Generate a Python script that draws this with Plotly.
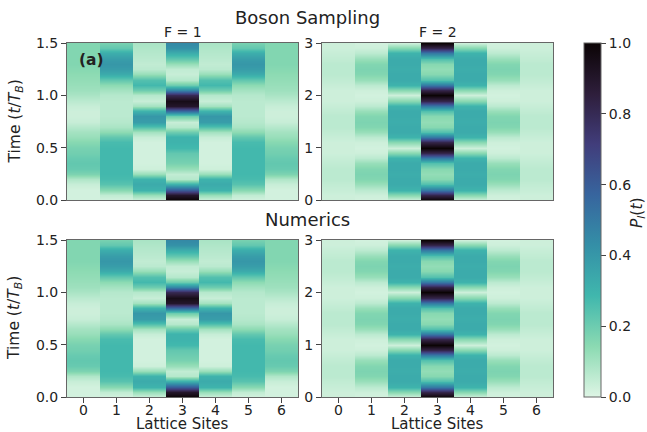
import plotly.graph_objects as go

# ---------------------------------------------------------------------------
# Occupation probabilities P_l(t) on a 7-site lattice (Bloch oscillations)
# ---------------------------------------------------------------------------
sites = [0, 1, 2, 3, 4, 5, 6]
site_labels = ["0", "1", "2", "3", "4", "5", "6"]

# F = 1 : time grid in units of T_B
time_f1 = [0.00, 0.05, 0.10, 0.15, 0.20, 0.25, 0.30, 0.35, 0.40, 0.45,
           0.50, 0.55, 0.60, 0.65, 0.70, 0.75, 0.80, 0.85, 0.90, 0.95,
           1.00, 1.05, 1.10, 1.15, 1.20, 1.25, 1.30, 1.35, 1.40, 1.45, 1.50]

f1_site0 = [0.02, 0.02, 0.02, 0.04, 0.08, 0.17, 0.21, 0.22, 0.21, 0.19,
            0.18, 0.15, 0.12, 0.10, 0.07, 0.04, 0.03, 0.03, 0.04, 0.06,
            0.09, 0.11, 0.12, 0.13, 0.14, 0.15, 0.16, 0.16, 0.16, 0.16, 0.16]
f1_site1 = [0.02, 0.05, 0.15, 0.24, 0.27, 0.28, 0.28, 0.28, 0.28, 0.28,
            0.28, 0.27, 0.22, 0.14, 0.09, 0.07, 0.06, 0.06, 0.06, 0.06,
            0.07, 0.10, 0.14, 0.22, 0.33, 0.38, 0.40, 0.38, 0.32, 0.22, 0.18]
f1_site2 = [0.03, 0.12, 0.30, 0.33, 0.30, 0.12, 0.03, 0.02, 0.02, 0.02,
            0.02, 0.02, 0.04, 0.10, 0.25, 0.38, 0.40, 0.30, 0.10, 0.04,
            0.07, 0.20, 0.28, 0.25, 0.12, 0.06, 0.05, 0.06, 0.07, 0.08, 0.09]
f1_site3 = [1.00, 0.90, 0.60, 0.30, 0.07, 0.05, 0.12, 0.18, 0.20, 0.22,
            0.28, 0.30, 0.30, 0.20, 0.07, 0.04, 0.20, 0.55, 0.90, 0.95,
            0.80, 0.45, 0.20, 0.07, 0.04, 0.05, 0.12, 0.22, 0.32, 0.42, 0.45]
f1_site4 = f1_site2
f1_site5 = f1_site1
f1_site6 = f1_site0

# F = 2 : time grid in units of T_B
time_f2 = [0.0, 0.1, 0.2, 0.3, 0.4, 0.5, 0.6, 0.7, 0.8, 0.9,
           1.0, 1.1, 1.2, 1.3, 1.4, 1.5, 1.6, 1.7, 1.8, 1.9,
           2.0, 2.1, 2.2, 2.3, 2.4, 2.5, 2.6, 2.7, 2.8, 2.9, 3.0]

f2_site0 = [0.03, 0.03, 0.04, 0.05, 0.06, 0.06, 0.06, 0.05, 0.04, 0.03,
            0.03, 0.03, 0.04, 0.05, 0.06, 0.06, 0.06, 0.05, 0.04, 0.03,
            0.03, 0.03, 0.04, 0.05, 0.06, 0.06, 0.06, 0.05, 0.04, 0.03, 0.03]
f2_site1 = [0.02, 0.03, 0.06, 0.12, 0.16, 0.17, 0.16, 0.12, 0.06, 0.03,
            0.02, 0.03, 0.06, 0.12, 0.16, 0.17, 0.16, 0.12, 0.06, 0.03,
            0.02, 0.03, 0.06, 0.12, 0.16, 0.17, 0.16, 0.12, 0.06, 0.03, 0.02]
f2_site2 = [0.03, 0.15, 0.30, 0.33, 0.33, 0.32, 0.33, 0.33, 0.30, 0.15,
            0.03, 0.15, 0.30, 0.33, 0.33, 0.32, 0.33, 0.33, 0.30, 0.15,
            0.03, 0.15, 0.30, 0.33, 0.33, 0.32, 0.33, 0.33, 0.30, 0.15, 0.03]
f2_site3 = [1.00, 0.82, 0.50, 0.25, 0.15, 0.13, 0.15, 0.25, 0.50, 0.82,
            1.00, 0.82, 0.50, 0.25, 0.15, 0.13, 0.15, 0.25, 0.50, 0.82,
            1.00, 0.82, 0.50, 0.25, 0.15, 0.13, 0.15, 0.25, 0.50, 0.82, 1.00]
f2_site4 = f2_site2
f2_site5 = f2_site1
f2_site6 = f2_site0

f1_columns = [f1_site0, f1_site1, f1_site2, f1_site3, f1_site4, f1_site5, f1_site6]
f2_columns = [f2_site0, f2_site1, f2_site2, f2_site3, f2_site4, f2_site5, f2_site6]

# reversed "mako" colour map
mako_r = [
    [0.000, "#def5e5"],
    [0.143, "#8bdab2"],
    [0.286, "#40b7ad"],
    [0.429, "#348fa7"],
    [0.571, "#37659e"],
    [0.714, "#413d7b"],
    [0.857, "#2e1e3b"],
    [1.000, "#0b0405"],
]

W, H = 647, 432
FONT = "DejaVu Sans"
LINE = "#666666"


def px_x(p):
    return p / W


def px_y(p):
    return 1 - p / H


fig = go.Figure()

# (axis suffix, time grid, columns)
panels = [
    ("", time_f1, f1_columns),     # Boson sampling, F = 1
    ("2", time_f2, f2_columns),    # Boson sampling, F = 2
    ("3", time_f1, f1_columns),    # Numerics, F = 1
    ("4", time_f2, f2_columns),    # Numerics, F = 2
]

for suffix, times, columns in panels:
    for site, col in zip(sites, columns):
        # each site is its own strip: sharp edges between sites,
        # smooth shading along time
        fig.add_trace(go.Heatmap(
            x=[site - 0.25, site + 0.25],
            y=times,
            z=[[v, v] for v in col],
            zsmooth="best",
            coloraxis="coloraxis",
            xaxis="x" + suffix,
            yaxis="y" + suffix,
            hoverinfo="skip",
        ))

xdom_left = [px_x(67), px_x(298)]
xdom_right = [px_x(322), px_x(553)]
ydom_top = [px_y(200), px_y(43)]
ydom_bot = [px_y(397), px_y(240)]

common_axis = dict(showline=True, mirror=True, linecolor=LINE, linewidth=1,
                   showgrid=False, zeroline=False,
                   tickfont=dict(family=FONT, size=14, color="#222"),
                   tickcolor="#444", ticklen=5, tickwidth=1)

xtop = dict(common_axis, range=[-0.5, 6.5], showticklabels=False, ticks="")
xbot = dict(common_axis, range=[-0.5, 6.5], tickvals=sites, ticktext=site_labels,
            ticks="outside", ticklabelstandoff=-5)
y15 = dict(common_axis, range=[0, 1.5], tickvals=[0, 0.5, 1.0, 1.5],
           ticktext=["0.0", "0.5", "1.0", "1.5"], ticks="outside")
y3 = dict(common_axis, range=[0, 3], tickvals=[0, 1, 2, 3],
          ticktext=["0", "1", "2", "3"], ticks="outside")

fig.update_layout(
    width=W, height=H,
    margin=dict(l=0, r=0, t=0, b=0, autoexpand=False),
    paper_bgcolor="white", plot_bgcolor="white",
    font=dict(family=FONT, color="#222"),
    showlegend=False,
    xaxis=dict(xtop, domain=xdom_left, anchor="y"),
    yaxis=dict(y15, domain=ydom_top, anchor="x"),
    xaxis2=dict(xtop, domain=xdom_right, anchor="y2"),
    yaxis2=dict(y3, domain=ydom_top, anchor="x2"),
    xaxis3=dict(xbot, domain=xdom_left, anchor="y3"),
    yaxis3=dict(y15, domain=ydom_bot, anchor="x3"),
    xaxis4=dict(xbot, domain=xdom_right, anchor="y4"),
    yaxis4=dict(y3, domain=ydom_bot, anchor="x4"),
    coloraxis=dict(
        colorscale=mako_r, cmin=0, cmax=1,
        colorbar=dict(
            x=px_x(584), xanchor="left",
            y=px_y(220), yanchor="middle",
            len=354 / H, lenmode="fraction",
            thickness=17, thicknessmode="pixels",
            outlinewidth=1, outlinecolor=LINE,
            tickvals=[0, 0.2, 0.4, 0.6, 0.8, 1.0],
            ticktext=["0.0", "0.2", "0.4", "0.6", "0.8", "1.0"],
            ticks="outside", ticklen=5, tickcolor="#444",
            tickfont=dict(family=FONT, size=14, color="#222"),
            xpad=0, ypad=0,
        ),
    ),
)


def label(text, x, y, size, angle=0, xanchor="center", bold=False):
    if bold:
        text = "<b>" + text + "</b>"
    fig.add_annotation(text=text, x=x, y=y, xref="paper", yref="paper",
                       showarrow=False, textangle=angle,
                       xanchor=xanchor, yanchor="middle",
                       font=dict(family=FONT, size=size, color="#222"))


label("Boson Sampling", px_x(307), px_y(18), 18)
label("Numerics", px_x(307), px_y(219), 18)
label("F = 1", px_x(182.5), px_y(32), 14)
label("F = 2", px_x(437.5), px_y(32), 14)
label("(a)", px_x(77), px_y(60), 15.5, xanchor="left", bold=True)
time_title = "Time (<i>t</i>/<i>T<sub>B</sub></i>)"
label(time_title, px_x(15), px_y(121.5), 15.5, angle=-90)
label(time_title, px_x(15), px_y(318), 15.5, angle=-90)
label("Lattice Sites", px_x(182.5), px_y(424), 15)
label("Lattice Sites", px_x(437.5), px_y(424), 15)
label("<i>P<sub>l</sub></i>(<i>t</i>)", px_x(638), px_y(213), 15.5, angle=-90)

fig.write_html("out.html")
